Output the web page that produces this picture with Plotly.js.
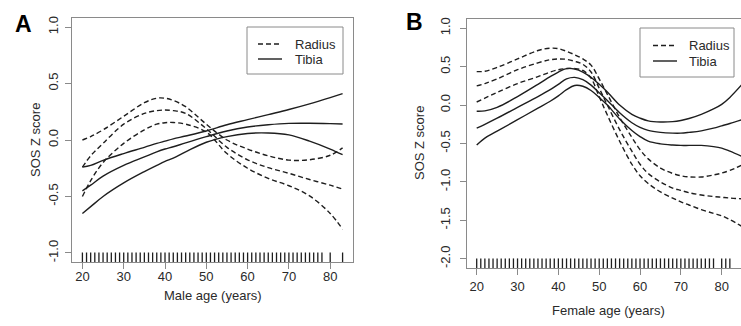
<!DOCTYPE html>
<html>
<head>
<meta charset="utf-8">
<script src="https://cdn.plot.ly/plotly-3.0.1.min.js"></script>
<style>
html,body{margin:0;padding:0;background:#fff;}
#chart{width:741px;height:326px;}
</style>
</head>
<body>
<div id="chart"></div>
<script>
// ---------- Panel A (male) ----------
const maleAge = [20,22,25,30,35,38,40,42,45,50,55,60,65,70,75,80,83];
const maleRadiusUpper = [0.0,0.03,0.09,0.21,0.33,0.37,0.37,0.35,0.295,0.14,0.0,-0.08,-0.14,-0.178,-0.175,-0.135,-0.07];
const maleRadiusFit   = [-0.24,-0.14,-0.03,0.14,0.235,0.26,0.265,0.26,0.235,0.10,-0.065,-0.175,-0.245,-0.295,-0.35,-0.40,-0.435];
const maleRadiusLower = [-0.5,-0.36,-0.2,-0.03,0.09,0.14,0.153,0.155,0.14,0.07,-0.12,-0.25,-0.34,-0.405,-0.495,-0.65,-0.79];
const maleTibiaUpper  = [-0.24,-0.225,-0.18,-0.12,-0.065,-0.03,-0.01,0.01,0.035,0.08,0.135,0.18,0.225,0.27,0.32,0.375,0.41];
const maleTibiaFit    = [-0.45,-0.40,-0.32,-0.225,-0.15,-0.105,-0.08,-0.06,-0.025,0.03,0.08,0.115,0.135,0.147,0.148,0.145,0.142];
const maleTibiaLower  = [-0.65,-0.59,-0.5,-0.38,-0.28,-0.225,-0.19,-0.16,-0.105,-0.02,0.03,0.058,0.062,0.045,-0.01,-0.08,-0.13];
const maleRug = [20,21,22,23,24,25,26,27,28,29,30,31,32,33,34,35,36,37,38,39,40,41,42,43,44,45,46,47,48,49,50,51,52,53,54,55,56,57,58,59,60,61,62,63,64,65,66,67,68,69,70,71,72,73,74,75,76,77,78,80,83];

// ---------- Panel B (female) ----------
const femaleAge = [20,22,25,30,35,38,40,42,44,46,48,50,52,55,58,60,62,65,68,70,72,75,78,80,82,85];
const femaleRadiusUpper = [0.435,0.44,0.49,0.60,0.71,0.74,0.735,0.70,0.655,0.60,0.52,0.34,0.14,-0.16,-0.42,-0.58,-0.70,-0.82,-0.89,-0.92,-0.935,-0.935,-0.91,-0.885,-0.85,-0.78];
const femaleRadiusFit   = [0.25,0.28,0.34,0.46,0.55,0.59,0.60,0.595,0.57,0.53,0.43,0.22,0.0,-0.32,-0.60,-0.77,-0.89,-1.0,-1.08,-1.11,-1.14,-1.17,-1.19,-1.20,-1.21,-1.22];
const femaleRadiusLower = [0.04,0.09,0.165,0.28,0.37,0.43,0.46,0.475,0.475,0.45,0.35,0.11,-0.13,-0.47,-0.77,-0.92,-1.02,-1.13,-1.21,-1.26,-1.30,-1.36,-1.41,-1.44,-1.49,-1.58];
const femaleTibiaUpper  = [-0.08,-0.075,-0.03,0.11,0.27,0.37,0.43,0.475,0.47,0.43,0.36,0.27,0.17,0.0,-0.12,-0.17,-0.205,-0.22,-0.215,-0.20,-0.175,-0.12,-0.05,0.01,0.10,0.27];
const femaleTibiaFit    = [-0.30,-0.25,-0.17,-0.03,0.11,0.20,0.27,0.34,0.36,0.33,0.26,0.16,0.06,-0.10,-0.23,-0.29,-0.33,-0.355,-0.365,-0.365,-0.355,-0.335,-0.30,-0.27,-0.24,-0.19];
const femaleTibiaLower  = [-0.52,-0.43,-0.34,-0.19,-0.04,0.05,0.12,0.20,0.255,0.245,0.19,0.10,0.0,-0.18,-0.33,-0.41,-0.47,-0.505,-0.52,-0.525,-0.525,-0.525,-0.54,-0.56,-0.60,-0.67];
const femaleRug = [20,21,22,23,24,25,26,27,28,29,30,31,32,33,34,35,36,37,38,39,40,41,42,43,44,45,46,47,48,49,50,51,52,53,54,55,56,57,58,59,60,61,62,63,64,65,66,67,68,69,70,71,72,73,74,75,76,77,78,80,81,82,85];

const xTicks = [20,30,40,50,60,70,80];
const yTicksA = [-1.0,-0.5,0.0,0.5,1.0];
const yTicksB = [-2.0,-1.5,-1.0,-0.5,0.0,0.5,1.0];
const legendNames = ['Radius','Tibia'];

// ---------- helpers ----------
const W = 741, H = 326;
const px = v => v / W;
const py = v => 1 - v / H;
const LINE = '#1e1e1e';
const FONT = 'Liberation Sans, Arial, sans-serif';
const TXT = '#2a2a2a';
const BOX = '#8a8a8a';
const DASH = '5px,3px';

function curve(x, y, dashed, xa, ya) {
  return {x: x, y: y, type: 'scatter', mode: 'lines', xaxis: xa, yaxis: ya,
    line: {color: LINE, width: 1.4, dash: dashed ? DASH : 'solid', shape: 'spline', smoothing: 1},
    hoverinfo: 'skip', showlegend: false};
}
function rug(x, xa, ya) {
  return {x: x, y: x.map(() => 0.016), type: 'scatter', mode: 'markers', xaxis: xa, yaxis: ya,
    marker: {symbol: 'line-ns', size: 8, line: {color: LINE, width: 1.3}},
    hoverinfo: 'skip', showlegend: false};
}

const data = [
  curve(maleAge, maleRadiusUpper, true, 'x', 'y'),
  curve(maleAge, maleRadiusFit, true, 'x', 'y'),
  curve(maleAge, maleRadiusLower, true, 'x', 'y'),
  curve(maleAge, maleTibiaUpper, false, 'x', 'y'),
  curve(maleAge, maleTibiaFit, false, 'x', 'y'),
  curve(maleAge, maleTibiaLower, false, 'x', 'y'),
  rug(maleRug, 'x', 'y3'),
  curve(femaleAge, femaleRadiusUpper, true, 'x2', 'y2'),
  curve(femaleAge, femaleRadiusFit, true, 'x2', 'y2'),
  curve(femaleAge, femaleRadiusLower, true, 'x2', 'y2'),
  curve(femaleAge, femaleTibiaUpper, false, 'x2', 'y2'),
  curve(femaleAge, femaleTibiaFit, false, 'x2', 'y2'),
  curve(femaleAge, femaleTibiaLower, false, 'x2', 'y2'),
  rug(femaleRug, 'x2', 'y4')
];

const axisCommon = {
  showgrid: false, zeroline: false, showline: true, linecolor: BOX, linewidth: 1,
  ticks: 'outside', ticklen: 6, tickwidth: 1, tickcolor: BOX,
  tickfont: {family: FONT, size: 13, color: TXT}, fixedrange: true
};

const layout = {
  width: W, height: H,
  margin: {l: 0, r: 0, t: 0, b: 0, pad: 0},
  paper_bgcolor: '#fff', plot_bgcolor: '#fff',
  showlegend: false,
  xaxis: Object.assign({}, axisCommon, {domain: [px(72), px(353)], range: [17.48, 85.52],
    tickvals: xTicks, ticktext: xTicks.map(String), mirror: true, anchor: 'y', ticklabelstandoff: -4}),
  yaxis: Object.assign({}, axisCommon, {domain: [py(262), py(18)], range: [-1.08, 1.08],
    tickvals: yTicksA, ticktext: yTicksA.map(v => v.toFixed(1)), tickangle: -90, mirror: true, anchor: 'x',
    ticklabelstandoff: 2}),
  yaxis3: {overlaying: 'y', anchor: 'x', range: [0, 1], visible: false, fixedrange: true},
  xaxis2: Object.assign({}, axisCommon, {domain: [px(466.7), 1], range: [17.55, 84.73],
    tickvals: xTicks, ticktext: xTicks.map(String), mirror: true, anchor: 'y2'}),
  yaxis2: Object.assign({}, axisCommon, {domain: [py(268), py(19)], range: [-2.12, 1.12],
    tickvals: yTicksB, ticktext: yTicksB.map(v => v.toFixed(1)), tickangle: -90, mirror: false, anchor: 'x2',
    ticklabelstandoff: 5}),
  yaxis4: {overlaying: 'y2', anchor: 'x2', range: [0, 1], visible: false, fixedrange: true},
  shapes: [
    // legend A
    {type: 'rect', xref: 'paper', yref: 'paper', x0: px(247), x1: px(343), y0: py(74), y1: py(27),
      line: {color: BOX, width: 1}, fillcolor: '#fff'},
    {type: 'line', xref: 'paper', yref: 'paper', x0: px(258), x1: px(282), y0: py(44), y1: py(44),
      line: {color: LINE, width: 1.4, dash: DASH}},
    {type: 'line', xref: 'paper', yref: 'paper', x0: px(258), x1: px(282), y0: py(59), y1: py(59),
      line: {color: LINE, width: 1.4}},
    // legend B
    {type: 'rect', xref: 'paper', yref: 'paper', x0: px(640), x1: px(734), y0: py(77), y1: py(28),
      line: {color: BOX, width: 1}, fillcolor: '#fff'},
    {type: 'line', xref: 'paper', yref: 'paper', x0: px(653), x1: px(677), y0: py(45.5), y1: py(45.5),
      line: {color: LINE, width: 1.4, dash: DASH}},
    {type: 'line', xref: 'paper', yref: 'paper', x0: px(653), x1: px(677), y0: py(61), y1: py(61),
      line: {color: LINE, width: 1.4}}
  ],
  annotations: [
    {text: '<b>A</b>', xref: 'paper', yref: 'paper', x: px(23), y: py(24), xanchor: 'center', yanchor: 'middle',
      showarrow: false, font: {family: FONT, size: 23, color: '#000'}},
    {text: '<b>B</b>', xref: 'paper', yref: 'paper', x: px(415), y: py(22), xanchor: 'center', yanchor: 'middle',
      showarrow: false, font: {family: FONT, size: 23, color: '#000'}},
    {text: 'Male age (years)', xref: 'paper', yref: 'paper', x: px(213), y: py(295), xanchor: 'center', yanchor: 'middle',
      showarrow: false, font: {family: FONT, size: 13, color: TXT}},
    {text: 'SOS Z score', xref: 'paper', yref: 'paper', x: px(35), y: py(140), xanchor: 'center', yanchor: 'middle',
      textangle: -90, showarrow: false, font: {family: FONT, size: 13, color: TXT}},
    {text: 'Female age (years)', xref: 'paper', yref: 'paper', x: px(608), y: py(310), xanchor: 'center', yanchor: 'middle',
      showarrow: false, font: {family: FONT, size: 13, color: TXT}},
    {text: 'SOS Z score', xref: 'paper', yref: 'paper', x: px(419), y: py(143), xanchor: 'center', yanchor: 'middle',
      textangle: -90, showarrow: false, font: {family: FONT, size: 13, color: TXT}},
    {text: legendNames[0], xref: 'paper', yref: 'paper', x: px(293), y: py(44), xanchor: 'left', yanchor: 'middle',
      showarrow: false, font: {family: FONT, size: 13, color: TXT}},
    {text: legendNames[1], xref: 'paper', yref: 'paper', x: px(293), y: py(59), xanchor: 'left', yanchor: 'middle',
      showarrow: false, font: {family: FONT, size: 13, color: TXT}},
    {text: legendNames[0], xref: 'paper', yref: 'paper', x: px(687), y: py(45.5), xanchor: 'left', yanchor: 'middle',
      showarrow: false, font: {family: FONT, size: 13, color: TXT}},
    {text: legendNames[1], xref: 'paper', yref: 'paper', x: px(687), y: py(61), xanchor: 'left', yanchor: 'middle',
      showarrow: false, font: {family: FONT, size: 13, color: TXT}}
  ]
};

Plotly.newPlot('chart', data, layout, {displayModeBar: false, staticPlot: true});
</script>
</body>
</html>
